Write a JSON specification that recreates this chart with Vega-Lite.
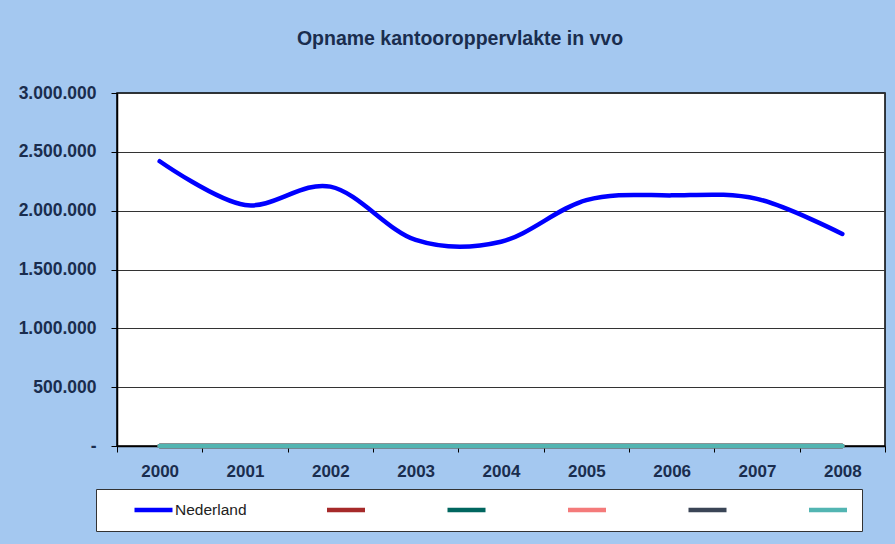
{
  "$schema": "https://vega.github.io/schema/vega-lite/v6.json",
  "autosize": "none",
  "width": 768,
  "height": 353,
  "padding": {"left": 117, "top": 93, "right": 10, "bottom": 98},
  "background": "#A4C8F0",
  "title": {
    "text": "Opname kantooroppervlakte in vvo",
    "font": "Liberation Sans",
    "fontSize": 19.5,
    "fontWeight": "bold",
    "color": "#1A2D4E",
    "anchor": "middle",
    "frame": "group",
    "dx": -41,
    "offset": 35
  },
  "data": {
    "values": [
      {"jaar": "2000", "reeks": "Nederland", "waarde": 2420000},
      {"jaar": "2001", "reeks": "Nederland", "waarde": 2048000},
      {"jaar": "2002", "reeks": "Nederland", "waarde": 2204000},
      {"jaar": "2003", "reeks": "Nederland", "waarde": 1751000},
      {"jaar": "2004", "reeks": "Nederland", "waarde": 1736000},
      {"jaar": "2005", "reeks": "Nederland", "waarde": 2090000},
      {"jaar": "2006", "reeks": "Nederland", "waarde": 2130000},
      {"jaar": "2007", "reeks": "Nederland", "waarde": 2100000},
      {"jaar": "2008", "reeks": "Nederland", "waarde": 1802000},
      {"jaar": "2000", "reeks": "Reeks2", "waarde": 0},
      {"jaar": "2001", "reeks": "Reeks2", "waarde": 0},
      {"jaar": "2002", "reeks": "Reeks2", "waarde": 0},
      {"jaar": "2003", "reeks": "Reeks2", "waarde": 0},
      {"jaar": "2004", "reeks": "Reeks2", "waarde": 0},
      {"jaar": "2005", "reeks": "Reeks2", "waarde": 0},
      {"jaar": "2006", "reeks": "Reeks2", "waarde": 0},
      {"jaar": "2007", "reeks": "Reeks2", "waarde": 0},
      {"jaar": "2008", "reeks": "Reeks2", "waarde": 0},
      {"jaar": "2000", "reeks": "Reeks3", "waarde": 0},
      {"jaar": "2001", "reeks": "Reeks3", "waarde": 0},
      {"jaar": "2002", "reeks": "Reeks3", "waarde": 0},
      {"jaar": "2003", "reeks": "Reeks3", "waarde": 0},
      {"jaar": "2004", "reeks": "Reeks3", "waarde": 0},
      {"jaar": "2005", "reeks": "Reeks3", "waarde": 0},
      {"jaar": "2006", "reeks": "Reeks3", "waarde": 0},
      {"jaar": "2007", "reeks": "Reeks3", "waarde": 0},
      {"jaar": "2008", "reeks": "Reeks3", "waarde": 0},
      {"jaar": "2000", "reeks": "Reeks4", "waarde": 0},
      {"jaar": "2001", "reeks": "Reeks4", "waarde": 0},
      {"jaar": "2002", "reeks": "Reeks4", "waarde": 0},
      {"jaar": "2003", "reeks": "Reeks4", "waarde": 0},
      {"jaar": "2004", "reeks": "Reeks4", "waarde": 0},
      {"jaar": "2005", "reeks": "Reeks4", "waarde": 0},
      {"jaar": "2006", "reeks": "Reeks4", "waarde": 0},
      {"jaar": "2007", "reeks": "Reeks4", "waarde": 0},
      {"jaar": "2008", "reeks": "Reeks4", "waarde": 0},
      {"jaar": "2000", "reeks": "Reeks5", "waarde": 0},
      {"jaar": "2001", "reeks": "Reeks5", "waarde": 0},
      {"jaar": "2002", "reeks": "Reeks5", "waarde": 0},
      {"jaar": "2003", "reeks": "Reeks5", "waarde": 0},
      {"jaar": "2004", "reeks": "Reeks5", "waarde": 0},
      {"jaar": "2005", "reeks": "Reeks5", "waarde": 0},
      {"jaar": "2006", "reeks": "Reeks5", "waarde": 0},
      {"jaar": "2007", "reeks": "Reeks5", "waarde": 0},
      {"jaar": "2008", "reeks": "Reeks5", "waarde": 0},
      {"jaar": "2000", "reeks": "Reeks6", "waarde": 0},
      {"jaar": "2001", "reeks": "Reeks6", "waarde": 0},
      {"jaar": "2002", "reeks": "Reeks6", "waarde": 0},
      {"jaar": "2003", "reeks": "Reeks6", "waarde": 0},
      {"jaar": "2004", "reeks": "Reeks6", "waarde": 0},
      {"jaar": "2005", "reeks": "Reeks6", "waarde": 0},
      {"jaar": "2006", "reeks": "Reeks6", "waarde": 0},
      {"jaar": "2007", "reeks": "Reeks6", "waarde": 0},
      {"jaar": "2008", "reeks": "Reeks6", "waarde": 0}
    ]
  },
  "mark": {"type": "line", "interpolate": "cardinal", "tension": 0, "strokeWidth": 4.5, "strokeCap": "round", "strokeJoin": "round"},
  "encoding": {
    "x": {
      "field": "jaar",
      "type": "ordinal",
      "scale": {"type": "band", "paddingInner": 0, "paddingOuter": 0},
      "axis": {
        "title": null,
        "labelAngle": 0,
        "tickBand": "extent",
        "tickSize": 6,
        "tickColor": "black",
        "domainColor": "black",
        "domainWidth": 1.5,
        "labelPadding": 11,
        "labelFont": "Liberation Sans",
        "labelFontSize": 17,
        "labelFontWeight": "bold",
        "labelColor": "#1A2D4E",
        "grid": false
      }
    },
    "y": {
      "field": "waarde",
      "type": "quantitative",
      "scale": {"domain": [0, 3000000], "nice": false},
      "axis": {
        "title": null,
        "values": [0, 500000, 1000000, 1500000, 2000000, 2500000, 3000000],
        "labelExpr": "datum.value == 0 ? '-' : replace(format(datum.value, ','), regexp(',', 'g'), '.')",
        "tickSize": 6,
        "tickColor": "black",
        "domainColor": "black",
        "domainWidth": 1.5,
        "labelPadding": 15,
        "labelFont": "Liberation Sans",
        "labelFontSize": 17.5,
        "labelFontWeight": "bold",
        "labelColor": "#1A2D4E",
        "grid": true,
        "gridColor": "#333333",
        "gridWidth": 1
      }
    },
    "color": {
      "field": "reeks",
      "type": "nominal",
      "scale": {
        "domain": ["Nederland", "Reeks2", "Reeks3", "Reeks4", "Reeks5", "Reeks6"],
        "range": ["#0000FF", "#A62A2A", "#00665F", "#F47A7A", "#3A4556", "#52B5B2"]
      },
      "legend": {
        "title": null,
        "orient": "none",
        "legendX": -21,
        "legendY": 396,
        "direction": "horizontal",
        "columns": 6,
        "symbolType": "stroke",
        "symbolSize": 1444,
        "symbolStrokeWidth": 4.5,
        "symbolOffset": 24,
        "labelOffset": 0,
        "columnPadding": 53.5,
        "clipHeight": 18,
        "padding": 12,
        "fillColor": "white",
        "strokeColor": "#333333",
        "labelFont": "Liberation Sans",
        "labelFontSize": 15.5,
        "labelColor": "#222222",
        "labelExpr": "datum.label == 'Nederland' ? datum.label : ''"
      }
    }
  },
  "config": {
    "view": {"stroke": "black", "strokeWidth": 1.5, "fill": "white"}
  }
}
